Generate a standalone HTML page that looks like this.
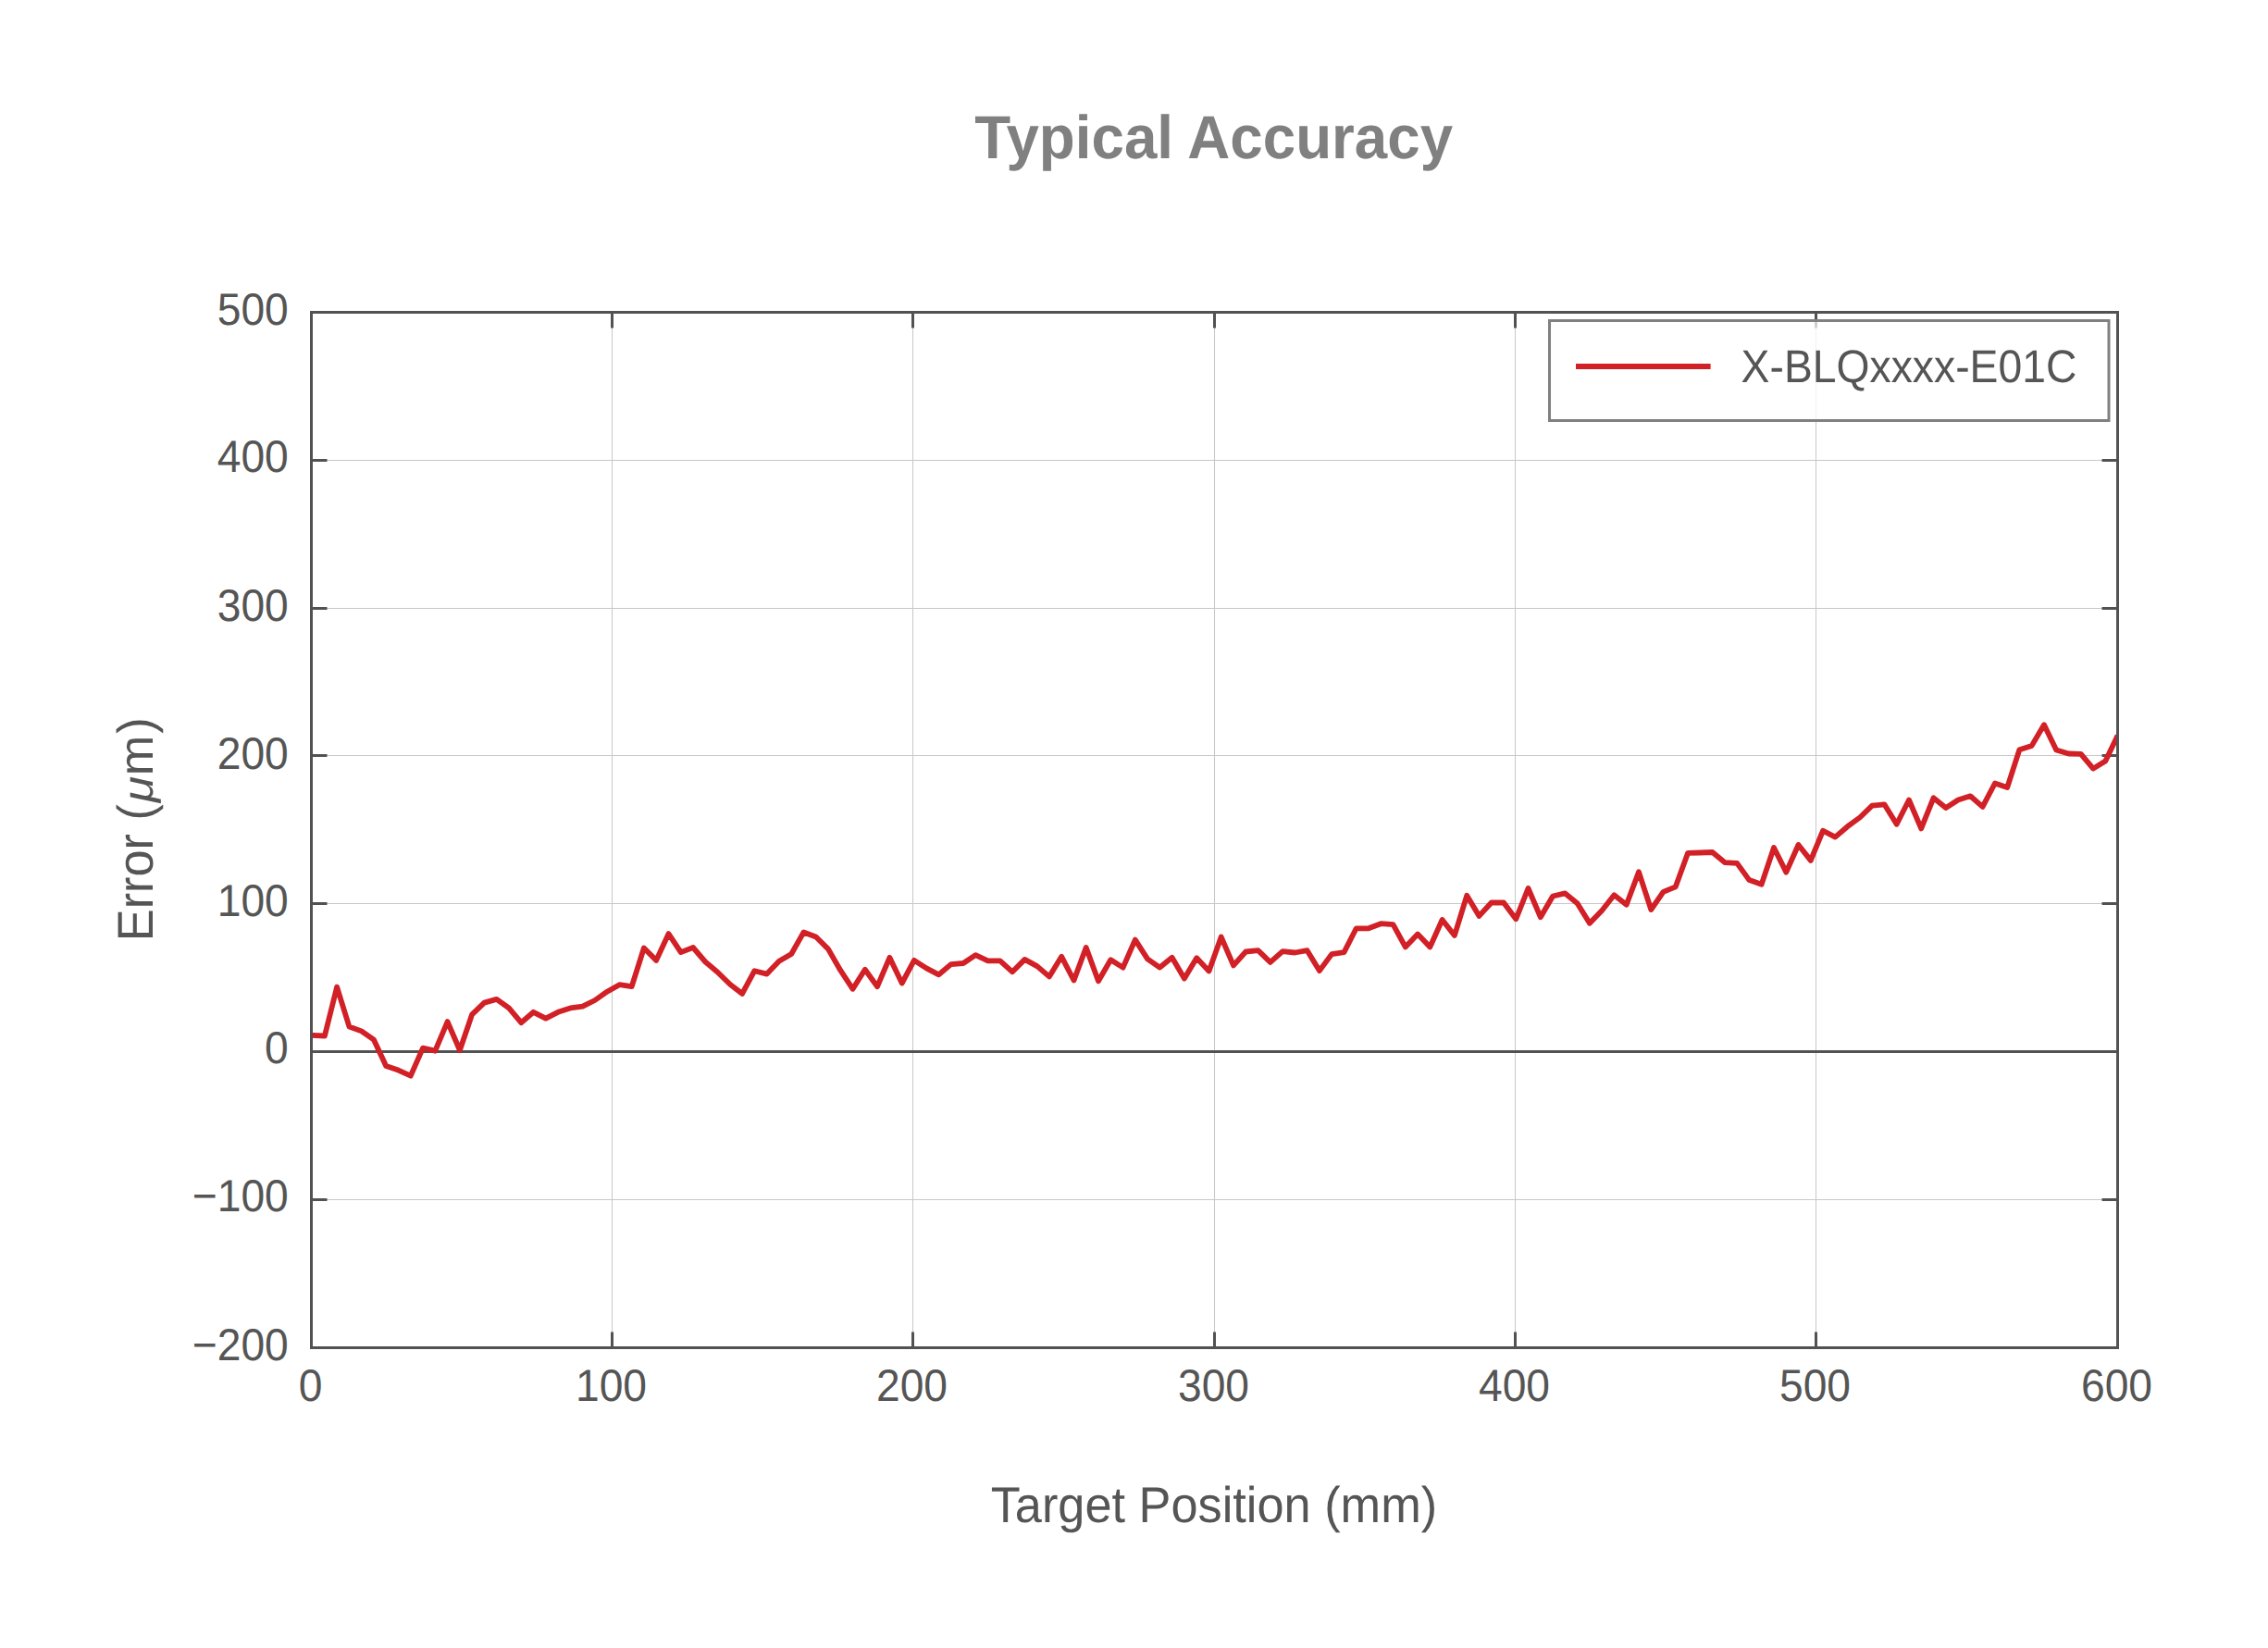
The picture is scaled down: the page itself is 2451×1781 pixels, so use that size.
<!DOCTYPE html>
<html lang="en"><head><meta charset="utf-8"><title>Typical Accuracy</title>
<style>html,body{margin:0;padding:0;background:#fff;}body{width:2451px;height:1781px;overflow:hidden;}svg{display:block;}text{font-family:"Liberation Sans",Arial,sans-serif;text-rendering:geometricPrecision;}</style></head><body>
<svg width="2451" height="1781" viewBox="0 0 2451 1781">
<rect width="2451" height="1781" fill="#fff"/>
<g stroke="#c8c8c8" stroke-width="1" fill="none">
<line x1="661.5" y1="337.5" x2="661.5" y2="1456.5"/>
<line x1="986.5" y1="337.5" x2="986.5" y2="1456.5"/>
<line x1="1312.5" y1="337.5" x2="1312.5" y2="1456.5"/>
<line x1="1637.5" y1="337.5" x2="1637.5" y2="1456.5"/>
<line x1="1962.5" y1="337.5" x2="1962.5" y2="1456.5"/>
<line x1="336.5" y1="1296.5" x2="2288.5" y2="1296.5"/>
<line x1="336.5" y1="976.5" x2="2288.5" y2="976.5"/>
<line x1="336.5" y1="816.5" x2="2288.5" y2="816.5"/>
<line x1="336.5" y1="657.5" x2="2288.5" y2="657.5"/>
<line x1="336.5" y1="497.5" x2="2288.5" y2="497.5"/>
</g>
<g stroke="#525252" stroke-width="3.0" fill="none">
<line x1="661.5" y1="1456.5" x2="661.5" y2="1439.5"/>
<line x1="661.5" y1="337.5" x2="661.5" y2="354.5"/>
<line x1="986.5" y1="1456.5" x2="986.5" y2="1439.5"/>
<line x1="986.5" y1="337.5" x2="986.5" y2="354.5"/>
<line x1="1312.5" y1="1456.5" x2="1312.5" y2="1439.5"/>
<line x1="1312.5" y1="337.5" x2="1312.5" y2="354.5"/>
<line x1="1637.5" y1="1456.5" x2="1637.5" y2="1439.5"/>
<line x1="1637.5" y1="337.5" x2="1637.5" y2="354.5"/>
<line x1="1962.5" y1="1456.5" x2="1962.5" y2="1439.5"/>
<line x1="1962.5" y1="337.5" x2="1962.5" y2="354.5"/>
<line x1="336.5" y1="1296.5" x2="353.5" y2="1296.5"/>
<line x1="2288.5" y1="1296.5" x2="2271.5" y2="1296.5"/>
<line x1="336.5" y1="1136.5" x2="353.5" y2="1136.5"/>
<line x1="2288.5" y1="1136.5" x2="2271.5" y2="1136.5"/>
<line x1="336.5" y1="976.5" x2="353.5" y2="976.5"/>
<line x1="2288.5" y1="976.5" x2="2271.5" y2="976.5"/>
<line x1="336.5" y1="816.5" x2="353.5" y2="816.5"/>
<line x1="2288.5" y1="816.5" x2="2271.5" y2="816.5"/>
<line x1="336.5" y1="657.5" x2="353.5" y2="657.5"/>
<line x1="2288.5" y1="657.5" x2="2271.5" y2="657.5"/>
<line x1="336.5" y1="497.5" x2="353.5" y2="497.5"/>
<line x1="2288.5" y1="497.5" x2="2271.5" y2="497.5"/>
</g>
<line x1="336.5" y1="1136.5" x2="2288.5" y2="1136.5" stroke="#525252" stroke-width="3"/>
<clipPath id="c"><rect x="336.5" y="337.5" width="1952.0" height="1119.0"/></clipPath>
<polyline clip-path="url(#c)" points="337.6,1118.8 350.9,1119.5 364.1,1066.6 377.4,1109.5 390.7,1114.4 404.0,1123.7 417.2,1151.9 430.5,1156.6 443.8,1162.7 457.0,1132.7 470.3,1135.7 483.6,1104.1 496.9,1135.0 510.1,1096.4 523.4,1083.6 536.7,1079.9 550.0,1089.4 563.2,1105.2 576.5,1093.8 589.8,1100.6 603.0,1093.8 616.3,1089.4 629.6,1087.6 642.9,1081.0 656.1,1071.7 669.4,1064.2 682.7,1066.2 695.9,1024.5 709.2,1037.9 722.5,1009.1 735.8,1029.1 749.0,1024.0 762.3,1039.5 775.6,1050.7 788.9,1063.7 802.1,1073.9 815.4,1049.2 828.7,1052.6 841.9,1038.7 855.2,1031.0 868.5,1007.5 881.8,1012.5 895.0,1025.6 908.3,1048.7 921.6,1068.8 934.8,1047.7 948.1,1066.2 961.4,1034.8 974.7,1062.6 987.9,1037.9 1001.2,1046.4 1014.5,1053.4 1027.7,1042.1 1041.0,1041.0 1054.3,1032.2 1067.6,1038.4 1080.8,1038.4 1094.1,1050.3 1107.4,1036.9 1120.7,1044.1 1133.9,1055.4 1147.2,1033.8 1160.5,1059.5 1173.7,1024.0 1187.0,1060.3 1200.3,1037.2 1213.6,1045.6 1226.8,1015.6 1240.1,1036.4 1253.4,1045.6 1266.6,1034.8 1279.9,1057.5 1293.2,1035.3 1306.5,1049.5 1319.7,1012.6 1333.0,1043.4 1346.3,1028.5 1359.6,1027.2 1372.8,1039.9 1386.1,1028.1 1399.4,1029.5 1412.6,1027.2 1425.9,1049.1 1439.2,1031.1 1452.5,1029.1 1465.7,1003.3 1479.0,1003.3 1492.3,998.2 1505.5,999.1 1518.8,1023.4 1532.1,1009.5 1545.4,1023.4 1558.6,994.0 1571.9,1011.0 1585.2,967.8 1598.5,989.9 1611.7,975.5 1625.0,975.5 1638.3,993.2 1651.5,960.0 1664.8,991.2 1678.1,968.5 1691.4,965.4 1704.6,976.2 1717.9,997.8 1731.2,984.0 1744.4,967.3 1757.7,977.8 1771.0,942.3 1784.3,983.0 1797.5,963.9 1810.8,958.3 1824.1,921.8 1837.3,921.5 1850.6,921.0 1863.9,932.1 1877.2,932.9 1890.4,951.1 1903.7,955.7 1917.0,916.0 1930.3,942.6 1943.5,913.0 1956.8,929.9 1970.1,897.7 1983.3,904.6 1996.6,893.2 2009.9,883.5 2023.2,870.7 2036.4,869.3 2049.7,890.7 2063.0,864.5 2076.2,895.4 2089.5,862.3 2102.8,873.1 2116.1,864.5 2129.3,860.3 2142.6,871.9 2155.9,846.5 2169.2,851.1 2182.4,810.2 2195.7,805.9 2209.0,783.2 2222.2,810.5 2235.5,814.5 2248.8,814.8 2262.1,830.6 2275.3,822.5 2288.6,794.8" fill="none" stroke="#d22027" stroke-width="5.8" stroke-linejoin="round" stroke-linecap="butt"/>
<rect x="336.5" y="337.5" width="1952.0" height="1119.0" fill="none" stroke="#525252" stroke-width="3.0"/>
<rect x="1674.5" y="346.5" width="604.5" height="108.0" fill="#fff" fill-opacity="0.72" stroke="#808080" stroke-width="3"/>
<line x1="1703" y1="396" x2="1848.6" y2="396" stroke="#d22027" stroke-width="6"/>
<text transform="translate(1881.6,413.0) scale(1,1.078)" font-size="46.3" fill="#555555" text-anchor="start">X-BLQxxxx-E01C</text>
<text transform="translate(335.5,1514.1) scale(1,1.058)" font-size="46.2" fill="#555555" text-anchor="middle">0</text>
<text transform="translate(660.5,1514.1) scale(1,1.058)" font-size="46.2" fill="#555555" text-anchor="middle">100</text>
<text transform="translate(985.5,1514.1) scale(1,1.058)" font-size="46.2" fill="#555555" text-anchor="middle">200</text>
<text transform="translate(1311.5,1514.1) scale(1,1.058)" font-size="46.2" fill="#555555" text-anchor="middle">300</text>
<text transform="translate(1636.5,1514.1) scale(1,1.058)" font-size="46.2" fill="#555555" text-anchor="middle">400</text>
<text transform="translate(1961.5,1514.1) scale(1,1.058)" font-size="46.2" fill="#555555" text-anchor="middle">500</text>
<text transform="translate(2287.5,1514.1) scale(1,1.058)" font-size="46.2" fill="#555555" text-anchor="middle">600</text>
<text transform="translate(311.8,1469.5) scale(1,1.058)" font-size="46.2" fill="#555555" text-anchor="end">−200</text>
<text transform="translate(311.8,1309.2) scale(1,1.058)" font-size="46.2" fill="#555555" text-anchor="end">−100</text>
<text transform="translate(311.8,1149.3) scale(1,1.058)" font-size="46.2" fill="#555555" text-anchor="end">0</text>
<text transform="translate(311.8,990.4) scale(1,1.058)" font-size="46.2" fill="#555555" text-anchor="end">100</text>
<text transform="translate(311.8,830.5) scale(1,1.058)" font-size="46.2" fill="#555555" text-anchor="end">200</text>
<text transform="translate(311.8,670.5) scale(1,1.058)" font-size="46.2" fill="#555555" text-anchor="end">300</text>
<text transform="translate(311.8,510.2) scale(1,1.058)" font-size="46.2" fill="#555555" text-anchor="end">400</text>
<text transform="translate(311.8,351.4) scale(1,1.058)" font-size="46.2" fill="#555555" text-anchor="end">500</text>
<text transform="translate(1311.7,171.3) scale(1,1.035)" font-size="63.7" fill="#808080" text-anchor="middle" font-weight="bold">Typical Accuracy</text>
<text transform="translate(1311.9,1644.8) scale(1,1.040)" font-size="52.3" fill="#555555" text-anchor="middle">Target Position (mm)</text>
<g transform="translate(164.7,1013.2) rotate(-90)" font-size="52.3">
<text transform="translate(-4.0,0) scale(1,1.04)" fill="#555555">Error (</text>
<text transform="translate(146.0,0) scale(1.120,1)" fill="#555555" font-family="'Liberation Serif','DejaVu Serif',serif" font-style="italic" font-size="46">μ</text>
<text transform="translate(175.0,0) scale(1,1.0)" fill="#555555">m</text>
<text transform="translate(220.5,0) scale(1,1.04)" fill="#555555">)</text>
</g>
</svg></body></html>
